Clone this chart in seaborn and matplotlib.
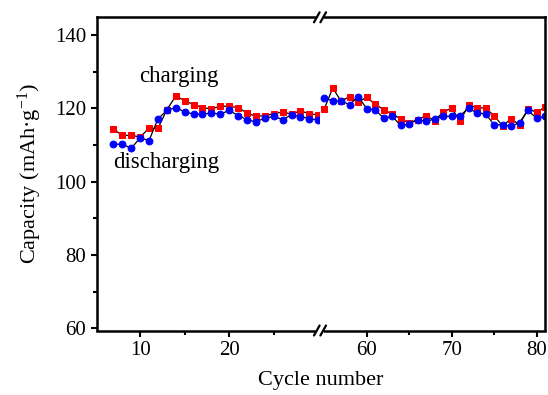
import matplotlib
matplotlib.use("Agg")
import matplotlib.pyplot as plt
from matplotlib.lines import Line2D
from matplotlib.patches import Rectangle
from matplotlib.ticker import FixedLocator
import seaborn as sns
import pandas as pd

# ---- data ----
cycles_left = [7, 8, 9, 10, 11, 12, 13, 14, 15, 16, 17, 18, 19, 20, 21, 22, 23, 24,
               25, 26, 27, 28, 29, 30]
charge_left = [114.3, 112.6, 112.6, 112.2, 114.5, 114.5, 119.6, 123.3, 122.1, 121.0,
               120.2, 119.8, 120.6, 120.5, 120.2, 118.7, 117.8, 118.0, 118.5, 119.0,
               118.4, 119.3, 118.5, 118.2]
discharge_left = [110.2, 110.2, 109.1, 111.9, 111.2, 117.1, 119.4, 120.2, 119.0, 118.4,
                  118.4, 118.7, 118.4, 119.4, 118.0, 116.9, 116.3, 117.3, 117.8, 116.9,
                  118.2, 117.7, 117.2, 116.8]

cycles_right = [55, 56, 57, 58, 59, 60, 61, 62, 63, 64, 65, 66, 67, 68, 69, 70, 71, 72,
                73, 74, 75, 76, 77, 78, 79, 80, 81]
charge_right = [119.8, 125.5, 121.9, 123.2, 121.7, 123.0, 121.1, 119.6, 118.4, 117.1,
                116.0, 116.9, 118.0, 116.6, 119.0, 120.0, 116.6, 120.8, 120.2, 120.0,
                118.0, 115.2, 117.1, 115.5, 119.9, 118.9, 120.3]
discharge_right = [122.8, 122.0, 121.9, 121.0, 123.2, 119.9, 119.6, 117.3, 117.8, 115.3,
                   115.7, 116.9, 116.4, 117.1, 117.8, 117.8, 118.0, 120.0, 118.7, 118.5,
                   115.5, 115.5, 115.1, 116.1, 119.4, 117.3, 117.8]

yticks = [60, 80, 100, 120, 140]
yminor = [70, 90, 110, 130]
xticks_left = [10, 20]
xminor_left = [15, 25]
xticks_right = [60, 70, 80]
xminor_right = [65, 75]

# ---- style ----
sns.set_style("ticks")
plt.rcParams["font.family"] = ["Liberation Serif", "DejaVu Serif"]
plt.rcParams["mathtext.fontset"] = "custom"
plt.rcParams["mathtext.rm"] = "Liberation Serif"
plt.rcParams["mathtext.default"] = "regular"
for k in ("axes.edgecolor", "xtick.color", "ytick.color", "text.color", "axes.labelcolor"):
    plt.rcParams[k] = "black"

W, H = 548, 395
fig = plt.figure(figsize=(W / 100, H / 100), dpi=100)
L, R, T, B, BRK = 96.5, 545, 17.3, 330.5, 320
axL = fig.add_axes([L / W, 1 - B / H, (BRK - L) / W, (B - T) / H])
axR = fig.add_axes([BRK / W, 1 - B / H, (R - BRK) / W, (B - T) / H])

line_kw = dict(color="black", linewidth=0.9)
red_kw = dict(marker="s", markersize=4.5, markerfacecolor="#ff0000", markeredgecolor="#ff0000")
blue_kw = dict(marker="o", markersize=4.9, markerfacecolor="#0000ff", markeredgecolor="#0000ff")

dfL = pd.DataFrame({"cycle": cycles_left, "charge": charge_left, "discharge": discharge_left})
dfR = pd.DataFrame({"cycle": cycles_right, "charge": charge_right, "discharge": discharge_right})

for ax, df in ((axL, dfL), (axR, dfR)):
    sns.lineplot(data=df, x="cycle", y="charge", ax=ax, **line_kw, **red_kw)
    sns.lineplot(data=df, x="cycle", y="discharge", ax=ax, **line_kw, **blue_kw)
    ax.set_ylim(59.4, 144.8)
    ax.set_xlabel("")
    ax.set_ylabel("")
    for s in ax.spines.values():
        s.set_linewidth(1.8)
        s.set_color("black")
    ax.tick_params(axis="both", which="major", direction="out", length=4.5, width=1.5,
                   labelsize=15, pad=3, color="black", labelcolor="black")
    ax.tick_params(axis="both", which="minor", direction="out", length=2.6, width=1.5,
                   color="black")

axL.set_xlim(5.1, 30.2)
axR.set_xlim(54.5, 81.0)
axL.spines["right"].set_visible(False)
axR.spines["left"].set_visible(False)

axL.xaxis.set_major_locator(FixedLocator(xticks_left))
axL.xaxis.set_minor_locator(FixedLocator(xminor_left))
axR.xaxis.set_major_locator(FixedLocator(xticks_right))
axR.xaxis.set_minor_locator(FixedLocator(xminor_right))
axL.yaxis.set_major_locator(FixedLocator(yticks))
axL.yaxis.set_minor_locator(FixedLocator(yminor))
axR.tick_params(axis="y", which="both", left=False, right=False, labelleft=False)

axL.set_ylabel("Capacity (mAh·g$^{-1}$)", fontsize=16, labelpad=8)
fig.text((L + R) / 2 / W, 1 - 380 / H, "Cycle number", ha="center", va="center", fontsize=16)

axL.text(14.4, 128.6, "charging", ha="center", va="center", fontsize=16.5)
axL.text(12.9, 105.2, "discharging", ha="center", va="center", fontsize=16.5)

# ---- break marks ----
for yb in (T, B):
    fig.add_artist(Rectangle(((BRK - 4) / W, 1 - (yb + 3) / H), 8 / W, 6 / H,
                             transform=fig.transFigure, facecolor="white",
                             edgecolor="none", zorder=10))
    for dx in (-3.2, 3.2):
        x0, x1 = BRK + dx - 2.8, BRK + dx + 2.8
        fig.add_artist(Line2D([x0 / W, x1 / W], [1 - (yb + 5) / H, 1 - (yb - 5) / H],
                              transform=fig.transFigure, color="black",
                              linewidth=1.6, zorder=11))

fig.savefig("out.png", dpi=100)
